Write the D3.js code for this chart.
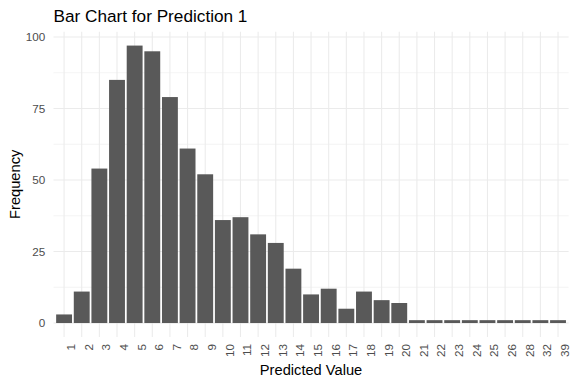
<!DOCTYPE html>
<html><head><meta charset="utf-8">
<script src="https://cdn.jsdelivr.net/npm/d3@7"></script>
<style>body{margin:0;background:#fff}svg{display:block}text{font-family:"Liberation Sans",Arial,sans-serif}</style>
</head><body><svg id="c" width="576" height="384"></svg>
<script>
const categories = ["1","2","3","4","5","6","7","8","9","10","11","12","13","14","15","16","17","18","19","20","21","22","23","24","25","26","28","32","39"];
const frequencies = [3,11,54,85,97,95,79,61,52,36,37,31,28,19,10,12,5,11,8,7,1,1,1,1,1,1,1,1,1];
const yTicks = [0,25,50,75,100];
const yMinor = [12.5,37.5,62.5,87.5];

const svg = d3.select("#c");
const L = 53.5, R = 568.6, T = 31.7, B = 336.9;
const n = categories.length;
const x = d3.scaleLinear().domain([0.4, n + 0.6]).range([L, R]);
const y = d3.scaleLinear().domain([-4.85, 101.85]).range([B, T]);

// grid
svg.append("g").selectAll("line").data(yMinor).join("line")
  .attr("x1", L).attr("x2", R).attr("y1", d => y(d)).attr("y2", d => y(d))
  .attr("stroke", "#ebebeb").attr("stroke-width", 0.53);
svg.append("g").selectAll("line").data(yTicks).join("line")
  .attr("x1", L).attr("x2", R).attr("y1", d => y(d)).attr("y2", d => y(d))
  .attr("stroke", "#ebebeb").attr("stroke-width", 1.07);
svg.append("g").selectAll("line").data(categories).join("line")
  .attr("y1", T).attr("y2", B).attr("x1", (d, i) => x(i + 1)).attr("x2", (d, i) => x(i + 1))
  .attr("stroke", "#ebebeb").attr("stroke-width", 1.07);

// bars
const bw = (x(1.45) - x(0.55));
svg.append("g").selectAll("rect").data(frequencies).join("rect")
  .attr("x", (d, i) => x(i + 1) - bw / 2)
  .attr("width", bw)
  .attr("y", d => y(d))
  .attr("height", d => y(0) - y(d))
  .attr("fill", "#595959");

// y tick labels
svg.append("g").selectAll("text").data(yTicks).join("text")
  .attr("x", L - 8.3).attr("y", d => y(d)).attr("dy", "0.35em")
  .attr("text-anchor", "end").attr("font-size", 11.7).attr("fill", "#4d4d4d")
  .text(d => d);

// x tick labels (rotated, text top aligned to tick)
svg.append("g").selectAll("text").data(categories).join("text")
  .attr("transform", (d, i) => `translate(${x(i + 1)},${B + 7}) rotate(-90)`)
  .attr("dy", "0.93em").attr("text-anchor", "end")
  .attr("font-size", 11.7).attr("fill", "#4d4d4d")
  .text(d => d);

// titles
svg.append("text").attr("x", (L + R) / 2).attr("y", 374.5).attr("text-anchor", "middle")
  .attr("font-size", 14.67).attr("fill", "#000").text("Predicted Value");
svg.append("text").attr("transform", `translate(19.8,${(T + B) / 2}) rotate(-90)`)
  .attr("text-anchor", "middle").attr("font-size", 14.67).attr("fill", "#000").text("Frequency");
svg.append("text").attr("x", L).attr("y", 21.5)
  .attr("font-size", 17.2).attr("fill", "#000").text("Bar Chart for Prediction 1");
</script></body></html>
